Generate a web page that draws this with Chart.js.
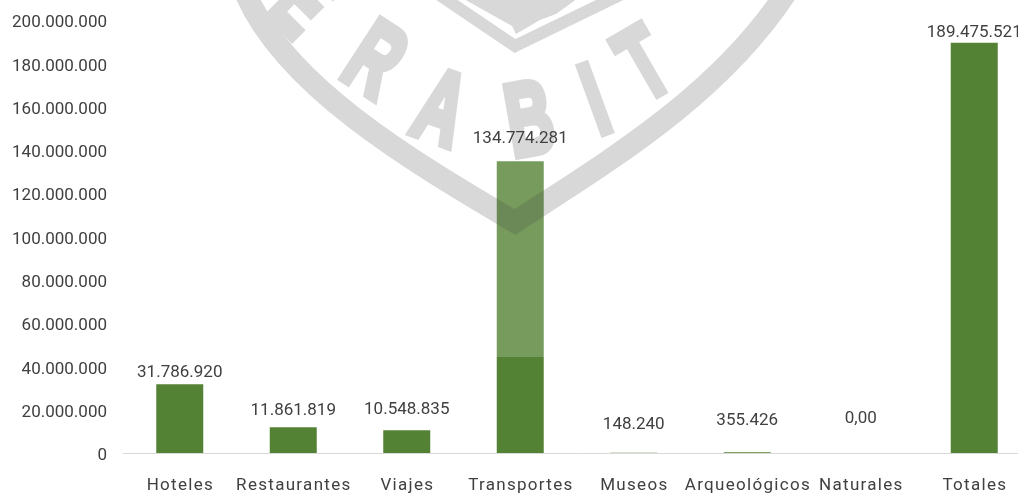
<!DOCTYPE html>
<html><head><meta charset="utf-8">
<script src="https://cdn.jsdelivr.net/npm/chart.js@4/dist/chart.umd.min.js"></script>
<style>html,body{margin:0;padding:0;background:#fff;overflow:hidden;}#wrap{width:1040px;height:493px;}</style>
</head><body><div id="wrap"><canvas id="c" width="1040" height="493"></canvas></div>
<script>
const categories = ['Hoteles','Restaurantes','Viajes','Transportes','Museos','Arqueológicos','Naturales','Totales'];
const values = [31786920, 11861819, 10548835, 134774281, 148240, 355426, 0, 189475521];
const yTicks = [0, 20000000, 40000000, 60000000, 80000000, 100000000, 120000000, 140000000, 160000000, 180000000, 200000000];

// style: how far each value label's centre sits above its bar top (px)
const labelLift = [13, 19, 22, 24, 30, 33, 36, 12];

function fmt(v){ return String(Math.round(v)).replace(/\B(?=(\d{3})+(?!\d))/g, '.'); }
function labelText(v){ return v === 0 ? '0,00' : fmt(v); }

const TEXT = '#404040';
const FONT = '17px Roboto';
const NUDGE = 2;

function buildLogo(){
  const off = document.createElement('canvas');
  off.width = 1040; off.height = 493;
  const c = off.getContext('2d');
  const g = 'rgb(65,65,65)';
  c.strokeStyle = g; c.fillStyle = g;
  c.lineWidth = 22; c.lineJoin = 'miter'; c.miterLimit = 10;
  c.beginPath();
  c.moveTo(244, -10);
  c.bezierCurveTo(283, 85, 410, 160, 515, 222);
  c.bezierCurveTo(610, 160, 720, 95, 788, -10);
  c.stroke();
  c.lineWidth = 12;
  c.beginPath();
  c.moveTo(438, -6); c.lineTo(515, 46); c.lineTo(622, -6);
  c.stroke();
  c.beginPath();
  c.moveTo(462, -2); c.lineTo(512, 26); c.lineTo(516, 34); c.lineTo(540, 20); c.lineTo(556, 14);
  c.lineTo(570, 4); c.lineTo(578, -2); c.closePath(); c.fill();
  const letters = [['E', 306, 0, 45], ['R', 377, 57, 33], ['A', 442, 105, 20], ['B', 529, 116, -10], ['I', 594, 97, -20], ['T', 642, 61, -30]];
  c.font = 'bold 102px "Liberation Sans"';
  c.textAlign = 'center'; c.textBaseline = 'alphabetic';
  c.lineWidth = 8; c.lineJoin = 'miter';
  letters.forEach(([ch, x, y, r]) => {
    c.save();
    c.translate(x, y);
    c.rotate(r * Math.PI / 180);
    c.scale(0.62, 1);
    c.fillText(ch, 0, 37);
    c.strokeText(ch, 0, 37);
    c.restore();
  });
  return off;
}
const logoImg = buildLogo();

const watermark = {
  id: 'watermark',
  afterDatasetsDraw(chart){
    const ctx = chart.ctx;
    ctx.save();
    ctx.fillStyle = 'rgba(255,255,255,0.2)';
    ctx.fillRect(127, 0, 823, 357);
    ctx.globalAlpha = 0.2;
    ctx.drawImage(logoImg, 0, 0);
    ctx.restore();
  }
};

const labelsPlugin = {
  id: 'labelsPlugin',
  afterDraw(chart){
    const ctx = chart.ctx;
    const meta = chart.getDatasetMeta(0);
    ctx.save();
    ctx.fillStyle = TEXT;
    ctx.font = FONT;
    ctx.textAlign = 'center';
    ctx.textBaseline = 'middle';
    meta.data.forEach((bar, i) => {
      ctx.fillText(labelText(values[i]), bar.x, bar.y - labelLift[i] + NUDGE);
    });
    const xs = chart.scales.x;
    ctx.letterSpacing = '1.3px';
    categories.forEach((c, i) => {
      ctx.fillText(c, xs.getPixelForValue(i) + 0.6, 484 + NUDGE);
    });
    ctx.restore();
  }
};

new Chart(document.getElementById('c'), {
  type: 'bar',
  data: {
    labels: categories,
    datasets: [{ data: values, backgroundColor: '#548235', barPercentage: 0.414, categoryPercentage: 1 }]
  },
  options: {
    responsive: false,
    animation: false,
    layout: { padding: { top: 20, right: 9, left: 0, bottom: 0 } },
    plugins: { legend: { display: false }, tooltip: { enabled: false } },
    scales: {
      x: {
        grid: { display: false },
        border: { display: true, color: '#d9d9d9', width: 1 },
        ticks: { display: false },
        afterFit(s){ s.height = 40; }
      },
      y: {
        min: 0, max: 200000000,
        afterBuildTicks(s){ s.ticks = yTicks.map(v => ({ value: v })); },
        grid: { display: false, drawTicks: false },
        border: { display: false },
        ticks: { padding: 16, labelOffset: 3, color: TEXT, font: { family: 'Roboto', size: 17 }, callback: v => fmt(v) },
        afterFit(s){ s.width = 123; s.paddingTop = 0; s.paddingBottom = 0; }
      }
    }
  },
  plugins: [watermark, labelsPlugin]
});
</script>
</body></html>
